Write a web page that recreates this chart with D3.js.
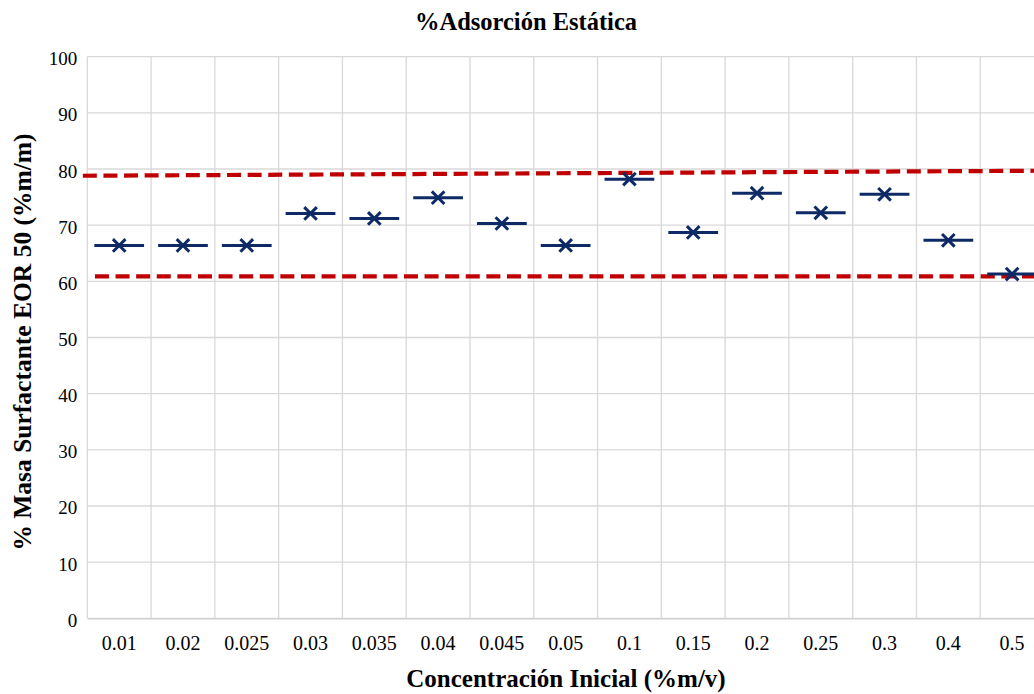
<!DOCTYPE html>
<html>
<head>
<meta charset="utf-8">
<script src="https://cdn.jsdelivr.net/npm/d3@7"></script>
<style>
  html, body { margin: 0; padding: 0; background: #fff; }
  svg { display: block; }
  text { font-family: "Liberation Serif", "Times New Roman", serif; fill: #000; }
</style>
</head>
<body>
<svg id="chart" width="1034" height="694"></svg>
<script>
// Initial concentration categories (%m/v)
const categories = ["0.01", "0.02", "0.025", "0.03", "0.035", "0.04", "0.045", "0.05",
                    "0.1", "0.15", "0.2", "0.25", "0.3", "0.4", "0.5"];
// Static adsorption, % mass of surfactant EOR 50 (%m/m)
const adsorption = [66.4, 66.4, 66.4, 72.1, 71.2, 74.9, 70.3, 66.4,
                    78.2, 68.7, 75.7, 72.2, 75.5, 67.3, 61.3];
// Upper and lower limit lines, [start, end] values
const upperLimit = [78.8, 79.7];
const lowerLimit = [60.9, 60.9];
// Limit line extents in category units
const upperSpan = [-0.07, 15];
const lowerSpan = [0.12, 15];
const yTicks = [0, 10, 20, 30, 40, 50, 60, 70, 80, 90, 100];

const svg = d3.select("#chart");
const plotLeft = 87.3, plotRight = 1044, plotTop = 56.7, plotBottom = 618.3;

const x = d3.scaleBand().domain(categories).range([plotLeft, plotRight]).padding(0);
const xc = d3.scaleLinear().domain([0, categories.length]).range([plotLeft, plotRight]);
const y = d3.scaleLinear().domain([0, 100]).range([plotBottom, plotTop]);

// Horizontal gridlines
svg.append("g").selectAll("line").data(yTicks).join("line")
  .attr("x1", plotLeft).attr("x2", plotRight)
  .attr("y1", d => y(d)).attr("y2", d => y(d))
  .attr("stroke", "#d9d9d9").attr("stroke-width", 1.3);

// Vertical gridlines at category boundaries
svg.append("g").selectAll("line").data(d3.range(categories.length + 1)).join("line")
  .attr("x1", d => xc(d)).attr("x2", d => xc(d))
  .attr("y1", plotTop).attr("y2", plotBottom)
  .attr("stroke", "#d9d9d9").attr("stroke-width", 1.3);

// Y axis labels
const yAxis = svg.append("g").attr("transform", `translate(${plotLeft},0)`)
  .call(d3.axisLeft(y).tickValues(yTicks).tickSize(0).tickPadding(10));
yAxis.select(".domain").remove();
yAxis.selectAll("text").attr("font-size", 19).attr("dy", "0.42em")
  .style("font-family", "Liberation Serif");

// X axis labels
const xAxis = svg.append("g").attr("transform", `translate(0,${plotBottom})`)
  .call(d3.axisBottom(x).tickSize(0).tickPadding(18));
xAxis.select(".domain").attr("stroke", "#d0d0d0").attr("stroke-width", 1.5);
xAxis.selectAll("text").attr("font-size", 20).style("font-family", "Liberation Serif");

// Limit lines
const limitLine = d3.line().x(d => xc(d[0])).y(d => y(d[1]));
const drawLimit = (vals, span) => svg.append("path")
  .datum([[span[0], vals[0]], [span[1], vals[1]]])
  .attr("d", limitLine)
  .attr("fill", "none").attr("stroke", "#c00000")
  .attr("stroke-width", 4.2).attr("stroke-dasharray", "14,6.6");
drawLimit(upperLimit, upperSpan);
drawLimit(lowerLimit, lowerSpan);

// Data markers: horizontal dash with an x
const marks = svg.append("g").selectAll("g").data(categories.map((c, i) => ({ c, v: adsorption[i] })))
  .join("g")
  .attr("transform", d => `translate(${x(d.c) + x.bandwidth() / 2},${y(d.v)})`);
const half = x.bandwidth() * 0.39;
marks.append("line")
  .attr("x1", -half).attr("x2", half).attr("y1", 0).attr("y2", 0)
  .attr("stroke", "#0e2a66").attr("stroke-width", 3);
marks.append("path")
  .attr("d", "M-6.3,-6.3L6.3,6.3M-6.3,6.3L6.3,-6.3")
  .attr("stroke", "#0e2a66").attr("stroke-width", 3).attr("fill", "none");

// Titles
svg.append("text").attr("x", 526).attr("y", 30).attr("text-anchor", "middle")
  .attr("font-size", 24.5).attr("font-weight", "bold").text("%Adsorción Estática");
svg.append("text").attr("x", 566).attr("y", 687).attr("text-anchor", "middle")
  .attr("font-size", 25).attr("font-weight", "bold").text("Concentración Inicial (%m/v)");
svg.append("text").attr("transform", "translate(31,342) rotate(-90)")
  .attr("text-anchor", "middle")
  .attr("font-size", 25.5).attr("font-weight", "bold").text("% Masa Surfactante EOR 50 (%m/m)");
</script>
</body>
</html>
